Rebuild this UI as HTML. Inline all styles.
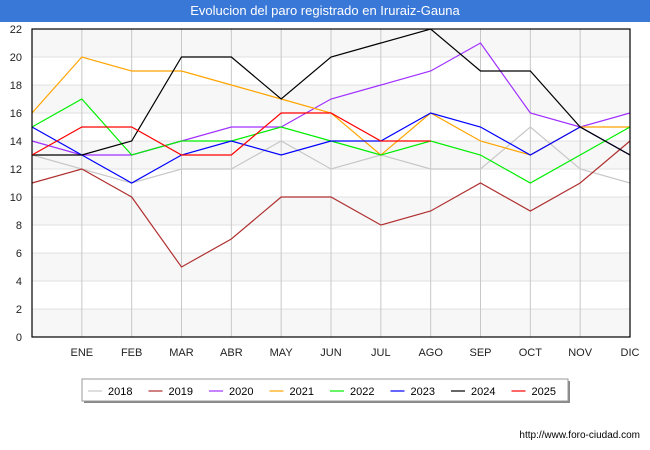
<!DOCTYPE html>
<html><head><meta charset="utf-8"><style>
body{margin:0;width:650px;height:450px;background:#fff;font-family:"Liberation Sans",sans-serif;overflow:hidden}
#title{position:absolute;left:0;top:0;width:650px;height:22px;background:#3a78d8;color:#fff;font-size:13px;line-height:22px;text-align:center}
</style></head><body>
<div id="title">Evolucion del paro registrado en Iruraiz-Gauna</div>
<svg id="c" width="650" height="450" style="position:absolute;left:0;top:0"></svg>
<script>
const months=["","ENE","FEB","MAR","ABR","MAY","JUN","JUL","AGO","SEP","OCT","NOV","DIC"];
const yTicks=[0,2,4,6,8,10,12,14,16,18,20,22];
const years=["2018","2019","2020","2021","2022","2023","2024","2025"];
const colors=["#c8c8c8","#b03030","#a030ff","#ffa500","#00ee00","#0000ff","#000000","#ff0000"];
const s2018=[13,12,11,12,12,14,12,13,12,12,15,12,11];
const s2019=[11,12,10,5,7,10,10,8,9,11,9,11,14];
const s2020=[14,13,13,14,15,15,17,18,19,21,16,15,16];
const s2021=[16,20,19,19,18,17,16,13,16,14,13,15,15];
const s2022=[15,17,13,14,14,15,14,13,14,13,11,13,15];
const s2023=[15,13,11,13,14,13,14,14,16,15,13,15,13];
const s2024=[13,13,14,20,20,17,20,21,22,19,19,15,13];
const s2025=[13,15,15,13,13,16,16,14,14];
const series=[s2018,s2019,s2020,s2021,s2022,s2023,s2024,s2025];
const svg=document.getElementById('c');const NS="http://www.w3.org/2000/svg";
const L=32,R=630,T=29,B=337,YMAX=22;
const x=i=>L+i*(R-L)/12, y=v=>B-v*(B-T)/YMAX;
function mk(t,a,p){const e=document.createElementNS(NS,t);for(const k in a)e.setAttribute(k,a[k]);(p||svg).appendChild(e);return e;}
for(let v=0;v<YMAX;v+=2){const r=mk('rect',{x:L,y:y(v+2),width:R-L,height:y(v)-y(v+2),fill:(v%4===0)?'#f7f7f7':'#fff'});

}
yTicks.forEach(v=>{const l=mk('line',{x1:L,x2:R,y1:y(v),y2:y(v),stroke:'#e0e0e0'});


const t=mk('text',{x:L-10,y:y(v)+4,'text-anchor':'end','font-size':11,fill:'#222'});t.textContent=v;

});
months.forEach((m,i)=>{if(i>0){const l=mk('line',{x1:x(i),x2:x(i),y1:T,y2:B,stroke:'#c8c8c8'});

}
const t=mk('text',{x:x(i),y:356,'text-anchor':'middle','font-size':11,fill:'#222'});t.textContent=m;

});
series.forEach((s,k)=>{const p=mk('polyline',{points:s.map((v,i)=>x(i)+','+y(v)).join(' '),fill:'none',stroke:colors[k],'stroke-width':1.2});

});
const ax=mk('rect',{x:L,y:T,width:R-L,height:B-T,fill:'none',stroke:'#000','stroke-width':1.2});


const lg=mk('g',{});
mk('rect',{x:84,y:381,width:486,height:22,fill:'#888'},lg);
mk('rect',{x:82,y:379,width:486,height:22,fill:'#fff',stroke:'#999'},lg);
years.forEach((yr,k)=>{const g=mk('g',{},lg);
const lx=88+k*60.5;mk('line',{x1:lx,x2:lx+14,y1:391,y2:391,stroke:colors[k],'stroke-width':1.2},g);
const t=mk('text',{x:lx+20,y:395,'font-size':11,fill:'#000'},g);t.textContent=yr;});
const u=mk('text',{x:640,y:438,'text-anchor':'end','font-size':10,fill:'#000'});u.textContent='http://www.foro-ciudad.com';


</script>
</body></html>
